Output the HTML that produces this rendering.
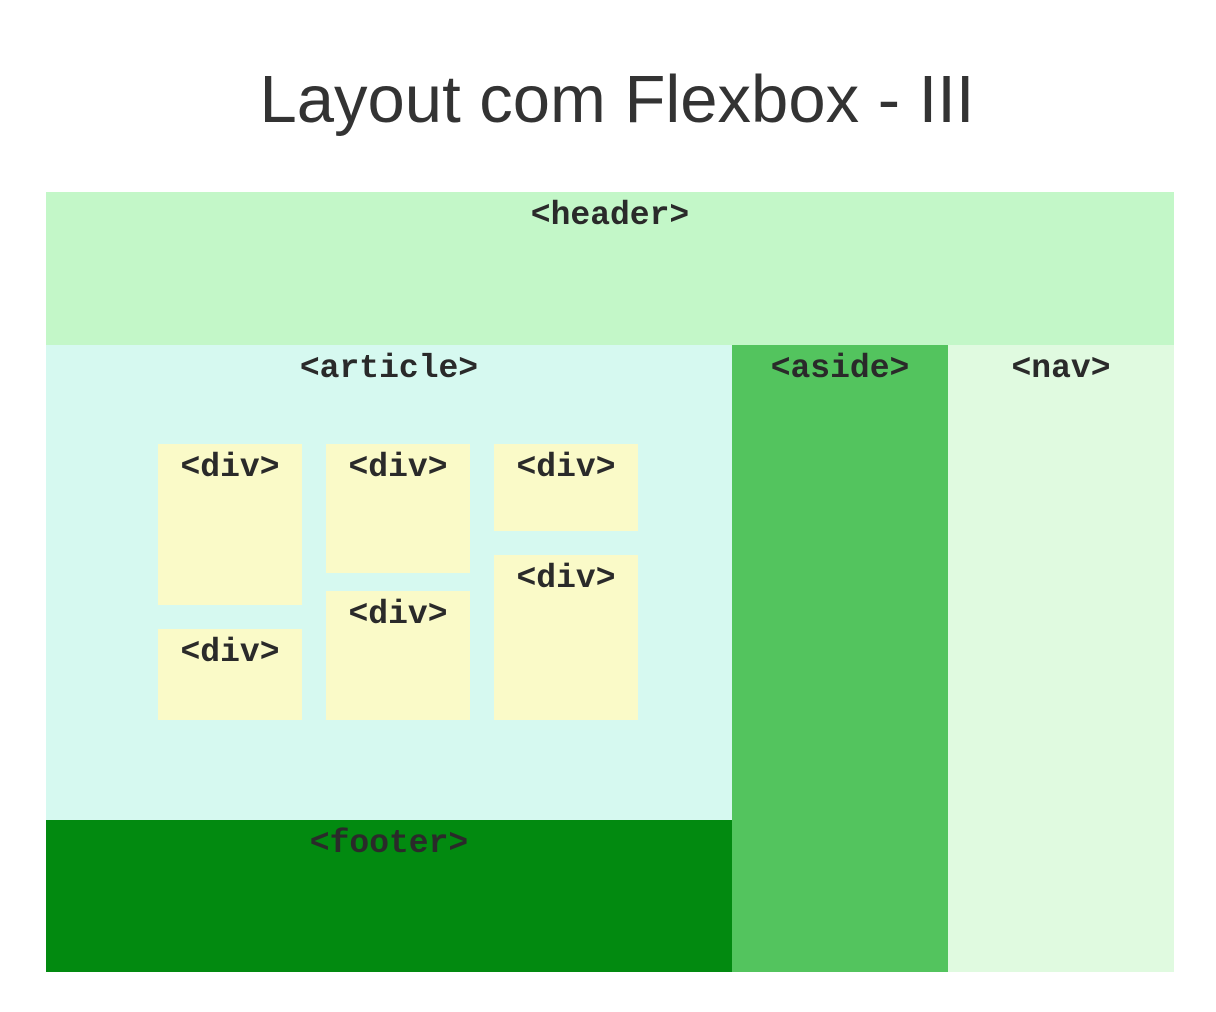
<!DOCTYPE html>
<html><head><meta charset="utf-8"><style>
body{margin:0;width:1216px;height:1012px;background:#fff;position:relative;overflow:hidden}
.t{position:absolute;left:18px;width:1198px;top:60px;text-align:center;font-family:"Liberation Sans",sans-serif;font-size:67px;color:#333;line-height:80px}
.b{position:absolute;font-family:"Liberation Mono",monospace;font-weight:bold;font-size:33px;color:#2a2a2a;text-align:center;line-height:44px;padding-top:2px;box-sizing:border-box}
</style></head><body>
<div class="t">Layout com Flexbox - III</div>
<div class="b" style="left:46px;top:192px;width:1128px;height:153px;background:#c3f7c8">&lt;header&gt;</div>
<div class="b" style="left:46px;top:345px;width:686px;height:475px;background:#d6f9f0">&lt;article&gt;</div>
<div class="b" style="left:46px;top:820px;width:686px;height:152px;background:#028a10">&lt;footer&gt;</div>
<div class="b" style="left:732px;top:345px;width:216px;height:627px;background:#53c45e">&lt;aside&gt;</div>
<div class="b" style="left:948px;top:345px;width:226px;height:627px;background:#e0fae0">&lt;nav&gt;</div>
<div class="b" style="left:158px;top:444px;width:144px;height:161px;background:#fafac8">&lt;div&gt;</div>
<div class="b" style="left:158px;top:629px;width:144px;height:91px;background:#fafac8">&lt;div&gt;</div>
<div class="b" style="left:326px;top:444px;width:144px;height:129px;background:#fafac8">&lt;div&gt;</div>
<div class="b" style="left:326px;top:591px;width:144px;height:129px;background:#fafac8">&lt;div&gt;</div>
<div class="b" style="left:494px;top:444px;width:144px;height:87px;background:#fafac8">&lt;div&gt;</div>
<div class="b" style="left:494px;top:555px;width:144px;height:165px;background:#fafac8">&lt;div&gt;</div>
</body></html>
